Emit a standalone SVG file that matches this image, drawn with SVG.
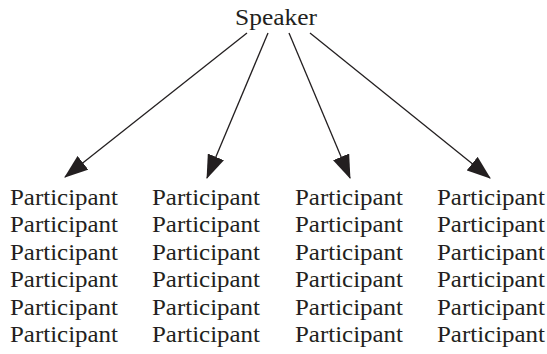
<svg xmlns="http://www.w3.org/2000/svg" width="547" height="354" viewBox="0 0 547 354">
<style>
  text { fill: #231f20; font-family: "Liberation Serif", "Times New Roman", serif; }
  .p { font-size: 23px; }
  .c line { stroke: #231f20; stroke-width: 1.3; fill: none; }
</style>
<defs>
  <marker id="ah" markerUnits="userSpaceOnUse" markerWidth="24" markerHeight="18" viewBox="0 0 22 16" refX="21" refY="8" orient="auto">
    <path d="M0,0 L22,8 L0,16 Z" fill="#231f20"/>
  </marker>
</defs>
<rect width="547" height="354" fill="#ffffff"/>
<g id="speaker">
  <text font-size="23" x="235" y="25" textLength="82" lengthAdjust="spacingAndGlyphs">Speaker</text>
</g>
<g class="c" id="connectors">
  <line x1="247" y1="33" x2="65" y2="177" marker-end="url(#ah)"/>
  <line x1="268" y1="33" x2="207" y2="178" marker-end="url(#ah)"/>
  <line x1="289" y1="33" x2="350" y2="178" marker-end="url(#ah)"/>
  <line x1="310" y1="33" x2="490" y2="178" marker-end="url(#ah)"/>
</g>
<g id="col1" class="p">
  <text class="p" x="10" y="205" textLength="108" lengthAdjust="spacingAndGlyphs">Participant</text>
  <text class="p" x="10" y="232.4" textLength="108" lengthAdjust="spacingAndGlyphs">Participant</text>
  <text class="p" x="10" y="259.8" textLength="108" lengthAdjust="spacingAndGlyphs">Participant</text>
  <text class="p" x="10" y="287.2" textLength="108" lengthAdjust="spacingAndGlyphs">Participant</text>
  <text class="p" x="10" y="314.6" textLength="108" lengthAdjust="spacingAndGlyphs">Participant</text>
  <text class="p" x="10" y="342" textLength="108" lengthAdjust="spacingAndGlyphs">Participant</text>
</g>
<g id="col2">
  <text class="p" x="152" y="205" textLength="108" lengthAdjust="spacingAndGlyphs">Participant</text>
  <text class="p" x="152" y="232.4" textLength="108" lengthAdjust="spacingAndGlyphs">Participant</text>
  <text class="p" x="152" y="259.8" textLength="108" lengthAdjust="spacingAndGlyphs">Participant</text>
  <text class="p" x="152" y="287.2" textLength="108" lengthAdjust="spacingAndGlyphs">Participant</text>
  <text class="p" x="152" y="314.6" textLength="108" lengthAdjust="spacingAndGlyphs">Participant</text>
  <text class="p" x="152" y="342" textLength="108" lengthAdjust="spacingAndGlyphs">Participant</text>
</g>
<g id="col3">
  <text class="p" x="295" y="205" textLength="108" lengthAdjust="spacingAndGlyphs">Participant</text>
  <text class="p" x="295" y="232.4" textLength="108" lengthAdjust="spacingAndGlyphs">Participant</text>
  <text class="p" x="295" y="259.8" textLength="108" lengthAdjust="spacingAndGlyphs">Participant</text>
  <text class="p" x="295" y="287.2" textLength="108" lengthAdjust="spacingAndGlyphs">Participant</text>
  <text class="p" x="295" y="314.6" textLength="108" lengthAdjust="spacingAndGlyphs">Participant</text>
  <text class="p" x="295" y="342" textLength="108" lengthAdjust="spacingAndGlyphs">Participant</text>
</g>
<g id="col4">
  <text class="p" x="437" y="205" textLength="108" lengthAdjust="spacingAndGlyphs">Participant</text>
  <text class="p" x="437" y="232.4" textLength="108" lengthAdjust="spacingAndGlyphs">Participant</text>
  <text class="p" x="437" y="259.8" textLength="108" lengthAdjust="spacingAndGlyphs">Participant</text>
  <text class="p" x="437" y="287.2" textLength="108" lengthAdjust="spacingAndGlyphs">Participant</text>
  <text class="p" x="437" y="314.6" textLength="108" lengthAdjust="spacingAndGlyphs">Participant</text>
  <text class="p" x="437" y="342" textLength="108" lengthAdjust="spacingAndGlyphs">Participant</text>
</g>
</svg>
